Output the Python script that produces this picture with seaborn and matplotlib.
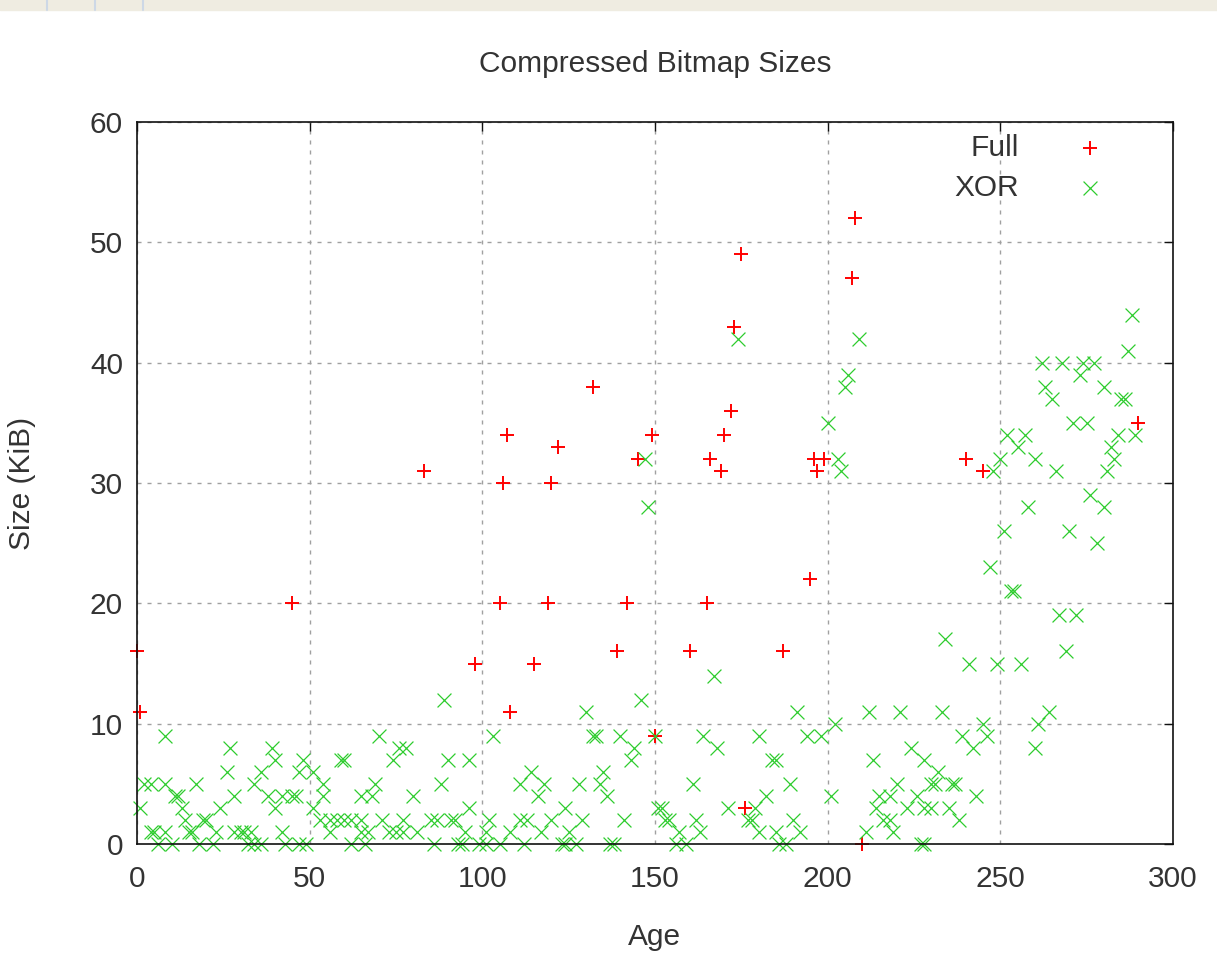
import matplotlib
matplotlib.use('Agg')
import seaborn as sns
from matplotlib import pyplot as plt
from matplotlib.patches import Rectangle
from matplotlib.lines import Line2D

# "Full" bitmaps (age, KiB)
full_age = [0, 1, 45, 83, 98, 105, 106, 107, 108, 115, 119, 120, 122, 132, 139, 142, 145, 149, 150,
            160, 165, 166, 169, 170, 172, 173, 175, 176, 187, 195, 196, 197, 199, 207, 208, 210,
            240, 245, 290]
full_size = [16, 11, 20, 31, 15, 20, 30, 34, 11, 15, 20, 30, 33, 38, 16, 20, 32, 34, 9,
             16, 20, 32, 31, 34, 36, 43, 49, 3, 16, 22, 32, 31, 32, 47, 52, 0,
             32, 31, 35]

# "XOR" bitmaps (age, KiB)
xor_age = [1, 2, 4, 8, 8, 4, 5, 8, 6, 10, 11, 12, 13, 14, 15, 16, 17, 19, 20, 24,
           18, 22, 23, 28, 26, 27, 28, 30, 31, 33, 32, 34, 36, 34, 38, 40, 42, 45, 46, 42,
           43, 47, 49, 36, 39, 40, 48, 47, 51,
           54, 54, 51, 53, 56, 58, 60, 62, 65, 56, 62, 66, 65, 67, 65, 68, 69, 71, 73, 75,
           70, 74, 59, 60,
           76, 78, 90, 96, 88, 80, 96, 77, 77, 81, 85, 87, 91, 92, 95, 86, 93, 94, 99, 89,
           101, 105, 103, 102, 101, 108, 111, 113, 112, 117, 120, 124, 125, 129, 123, 124, 127, 137, 138, 111,
           114, 118, 116, 128, 135, 134, 136, 141, 130, 132, 133, 140, 143, 144, 146, 147, 148, 150,
           151, 152, 153, 154, 157, 156, 159, 162, 163, 161, 164, 168, 167, 171, 174, 177, 178, 179, 180, 180,
           182, 184, 185, 185, 186, 188, 189, 190, 192, 191, 194, 198,
           200, 201, 202, 203, 204, 205, 206, 209, 211, 212, 213, 214, 215, 216, 218, 218, 219, 220, 221, 223,
           224, 226, 227, 228, 228,
           232, 230, 231, 236, 237, 243, 230, 235, 238, 228, 233, 234, 239, 242, 246, 245, 241, 249, 256, 247,
           253, 254, 248, 250, 251, 252, 255, 257, 258, 260, 261, 264, 260,
           262, 263, 265, 266, 267, 268, 269, 270, 271, 272, 273, 274, 275, 276, 277, 278, 280, 280, 281, 282,
           283, 284, 285, 286, 287, 288, 289]
xor_size = [3, 5, 5, 5, 9, 1, 1, 1, 0, 0, 4, 4, 3, 2, 1, 1, 5, 2, 2, 3,
            0, 0, 1, 4, 6, 8, 1, 1, 1, 1, 0, 0, 0, 5, 4, 3, 4, 4, 4, 1,
            0, 0, 0, 6, 8, 7, 7, 6, 6,
            5, 4, 3, 2, 2, 2, 2, 2, 2, 1, 0, 0, 1, 1, 4, 4, 5, 2, 1, 1,
            9, 7, 7, 7,
            8, 8, 7, 7, 5, 4, 3, 2, 1, 1, 2, 2, 2, 2, 1, 0, 0, 0, 0, 12,
            0, 0, 9, 2, 1, 1, 2, 2, 0, 1, 2, 3, 1, 2, 0, 0, 0, 0, 0, 5,
            6, 5, 4, 5, 6, 5, 4, 2, 11, 9, 9, 9, 7, 8, 12, 32, 28, 9,
            3, 3, 2, 2, 1, 0, 0, 2, 1, 5, 9, 8, 14, 3, 42, 2, 2, 3, 1, 9,
            4, 7, 7, 1, 0, 0, 5, 2, 1, 11, 9, 9,
            35, 4, 10, 32, 31, 38, 39, 42, 1, 11, 7, 3, 4, 2, 2, 4, 1, 5, 11, 3,
            8, 4, 0, 7, 3,
            6, 5, 5, 5, 5, 4, 3, 3, 2, 0, 11, 17, 9, 8, 9, 10, 15, 15, 15, 23,
            21, 21, 31, 32, 26, 34, 33, 34, 28, 8, 10, 11, 32,
            40, 38, 37, 31, 19, 40, 16, 26, 35, 19, 39, 40, 35, 29, 40, 25, 38, 28, 31, 33,
            32, 34, 37, 37, 41, 44, 34]

x_ticks = [0, 50, 100, 150, 200, 250, 300]
y_ticks = [0, 10, 20, 30, 40, 50, 60]

sns.set_style('white')
plt.rcParams['font.family'] = ['Liberation Sans', 'DejaVu Sans']
text_c = '#333333'
fs = 21.5

W, H = 1217, 961
fig = plt.figure(figsize=(W / 100, H / 100), dpi=100)
ax = fig.add_axes([137 / W, 1 - 844 / H, 1036 / W, 722 / H])

# browser strip at the very top of the screenshot
fig.patches.append(Rectangle((0, 1 - 10 / H), 1, 10 / H, transform=fig.transFigure,
                             color='#efece1', zorder=0))
for px in [47, 95, 143]:
    fig.add_artist(Line2D([px / W] * 2, [1 - 10 / H, 1], transform=fig.transFigure,
                          color='#cdd8e6', lw=1.5))

sns.scatterplot(x=full_age, y=full_size, marker='+', color='#ff0000', s=95, linewidth=1.4,
                label='Full', ax=ax, clip_on=False, zorder=3)
sns.scatterplot(x=xor_age, y=xor_size, marker='x', color='#2ecc2e', s=100, linewidth=0.9,
                label='XOR', ax=ax, clip_on=False, zorder=4)

ax.set_xlim(0, 300)
ax.set_ylim(0, 60)
ax.set_xticks(x_ticks)
ax.set_yticks(y_ticks)
ax.grid(True, color='#a0a0a0', lw=1.0, ls=(0, (2.9, 4.3)))
ax.set_axisbelow(True)
for sp in ax.spines.values():
    sp.set_color('#111111')
    sp.set_linewidth(1.2)
    sp.set_zorder(5)
ax.tick_params(direction='in', length=6.5, width=1.0, color='#111111', top=True, right=True,
               labelsize=fs, labelcolor=text_c)
ax.tick_params(axis='y', pad=10)
ax.tick_params(axis='x', pad=15)

ax.set_title('Compressed Bitmap Sizes', fontsize=fs, color=text_c, y=(844 - 64) / 722,
             va='center', pad=0)
ax.set_xlabel('Age', fontsize=fs, color=text_c, va='center')
ax.set_ylabel('Size (KiB)', fontsize=fs, color=text_c, va='center', ha='center')
ax.xaxis.set_label_coords(0.5, (844 - 937) / 722)
ax.yaxis.set_label_coords((22 - 137) / 1036, 0.5)

ax.legend(loc='upper right', bbox_to_anchor=(0.949, 0.983), markerfirst=False, frameon=False,
          handletextpad=1.4, borderpad=0, borderaxespad=0, labelspacing=0.4, fontsize=fs,
          labelcolor=text_c)

fig.savefig('out.png', dpi=100)
